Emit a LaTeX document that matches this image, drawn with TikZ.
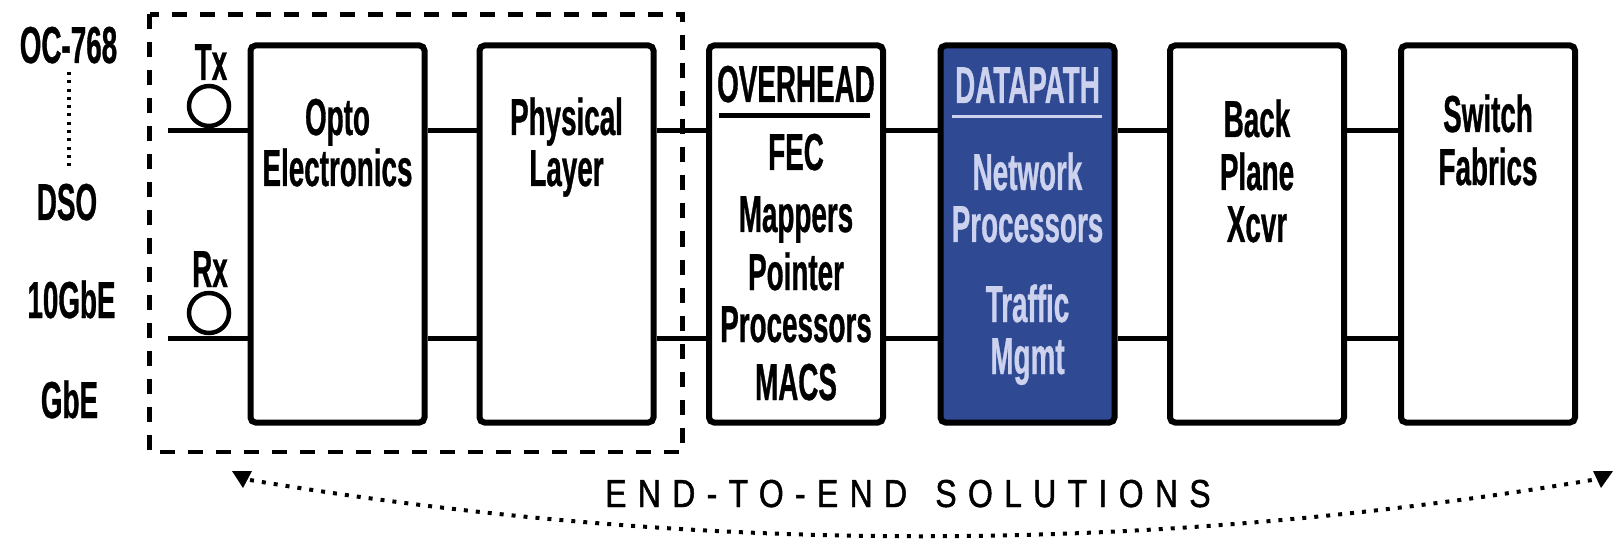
\documentclass[tikz,border=0pt]{standalone}
\usepackage{fontspec}
\setmainfont{Liberation Sans}[FakeStretch=0.535,FakeBold=0.6]
\newfontfamily\bandfont{Liberation Sans}[FakeStretch=0.82,FakeBold=1.2,LetterSpace=29]
\definecolor{pathblue}{HTML}{2F4A93}
\definecolor{pathtext}{HTML}{CDD3EE}

\begin{document}
\begin{tikzpicture}[x=1pt,y=-1pt,
  blk/.style={draw=black,line width=6pt,rounded corners=5pt,
    minimum width=174pt,minimum height=377pt,inner sep=0pt},
  lbl/.style={font=\fontsize{52}{60}\selectfont\bfseries,inner sep=0pt,anchor=base},
  wire/.style={line width=5pt},
  fiber/.style={circle,draw=black,line width=4.5pt,inner sep=0pt,fill=white,minimum size=40pt},
  frame/.style={line width=4.5pt,dash pattern=on 15pt off 13pt},
  dotline/.style={line width=3.5pt,dash pattern=on 3pt off 5.3pt},
  arcdots/.style={line width=4pt,dash pattern=on 4pt off 8pt},
  rule/.style={line width=4.5pt}]
\useasboundingbox (0,0) rectangle (1617,540);

% signal rows
\coordinate (rowT) at (0,130.5);
\coordinate (rowB) at (0,338.5);

% dashed frame round the optical front end
\draw[frame] (149.5,14.5) rectangle (682.5,452);

% blocks
\node[blk] (opto) at (337.5,234) {};
\node[blk] (phys) at (566.5,234) {};
\node[blk] (over) at (796,234) {};
\node[blk,fill=pathblue] (data) at (1027.5,234) {};
\node[blk] (back) at (1257,234) {};
\node[blk] (sw) at (1488,234) {};

% links between blocks
\foreach \a/\b in {opto/phys,phys/over,over/data,data/back,back/sw}{
  \draw[wire] (\a.east |- rowT) -- (\b.west |- rowT);
  \draw[wire] (\a.east |- rowB) -- (\b.west |- rowB);
}

% Tx / Rx fibre inputs
\coordinate (txin) at (168,130.5);
\coordinate (rxin) at (168,338.5);
\draw[wire] (txin) -- (opto.west |- rowT);
\draw[wire] (rxin) -- (opto.west |- rowB);
\node[fiber] (txloop) at (209,106) {};
\node[fiber] (rxloop) at (209,313) {};
\node[lbl] (txlbl) at (211,80) {Tx};
\node[lbl] (rxlbl) at (210,287) {Rx};

% line rates
\node[lbl] (oc) at (68.5,63) {OC-768};
\node[lbl] (dso) at (67,220) {DSO};
\node[lbl] (tenge) at (71.5,318) {10GbE};
\node[lbl] (ge) at (69.5,418) {GbE};
\coordinate (rangeTop) at (69,72);
\coordinate (rangeBot) at (69,168);
\draw[dotline] (rangeTop) -- (rangeBot);

% block texts
\node[lbl] (opto1) at (337.5,135) {Opto};
\node[lbl] (opto2) at (337.5,186) {Electronics};
\node[lbl] (phys1) at (566.5,135) {Physical};
\node[lbl] (phys2) at (566.5,186) {Layer};

\node[lbl] (over0) at (796,102) {OVERHEAD};
\draw[rule] (719,115.5) -- (870,115.5);
\node[lbl] (over1) at (796,170) {FEC};
\node[lbl] (over2) at (796,232) {Mappers};
\node[lbl] (over3) at (796,290) {Pointer};
\node[lbl] (over4) at (796,342) {Processors};
\node[lbl] (over5) at (796,400) {MACS};

\begin{scope}[every node/.append style={text=pathtext}]
\node[lbl] (data0) at (1027.5,103) {DATAPATH};
\draw[rule,pathtext,line width=3.5pt] (952,116.5) -- (1102,116.5);
\node[lbl] (data1) at (1027.5,190) {Network};
\node[lbl] (data2) at (1027.5,242) {Processors};
\node[lbl] (data3) at (1027.5,322) {Traffic};
\node[lbl] (data4) at (1027.5,374) {Mgmt};
\end{scope}

\node[lbl] (back1) at (1257,137) {Back};
\node[lbl] (back2) at (1257,190) {Plane};
\node[lbl] (back3) at (1257,242) {Xcvr};
\node[lbl] (sw1) at (1488,132) {Switch};
\node[lbl] (sw2) at (1488,185) {Fabrics};

% end-to-end span
\coordinate (arcL) at (250,480);
\coordinate (arcR) at (1592,480);
\draw[arcdots] (arcL) .. controls (697,555) and (1145,555) .. (arcR);
\fill (232,471) -- (252,471) -- (243,488) -- cycle;
\fill (1593,471) -- (1613,471) -- (1601,488) -- cycle;
\node[font=\bandfont\fontsize{39}{46}\selectfont,anchor=base west,inner sep=0pt]
  (band) at (605,507) {END-TO-END\hspace{8pt} SOLUTIONS};
\end{tikzpicture}
\end{document}
